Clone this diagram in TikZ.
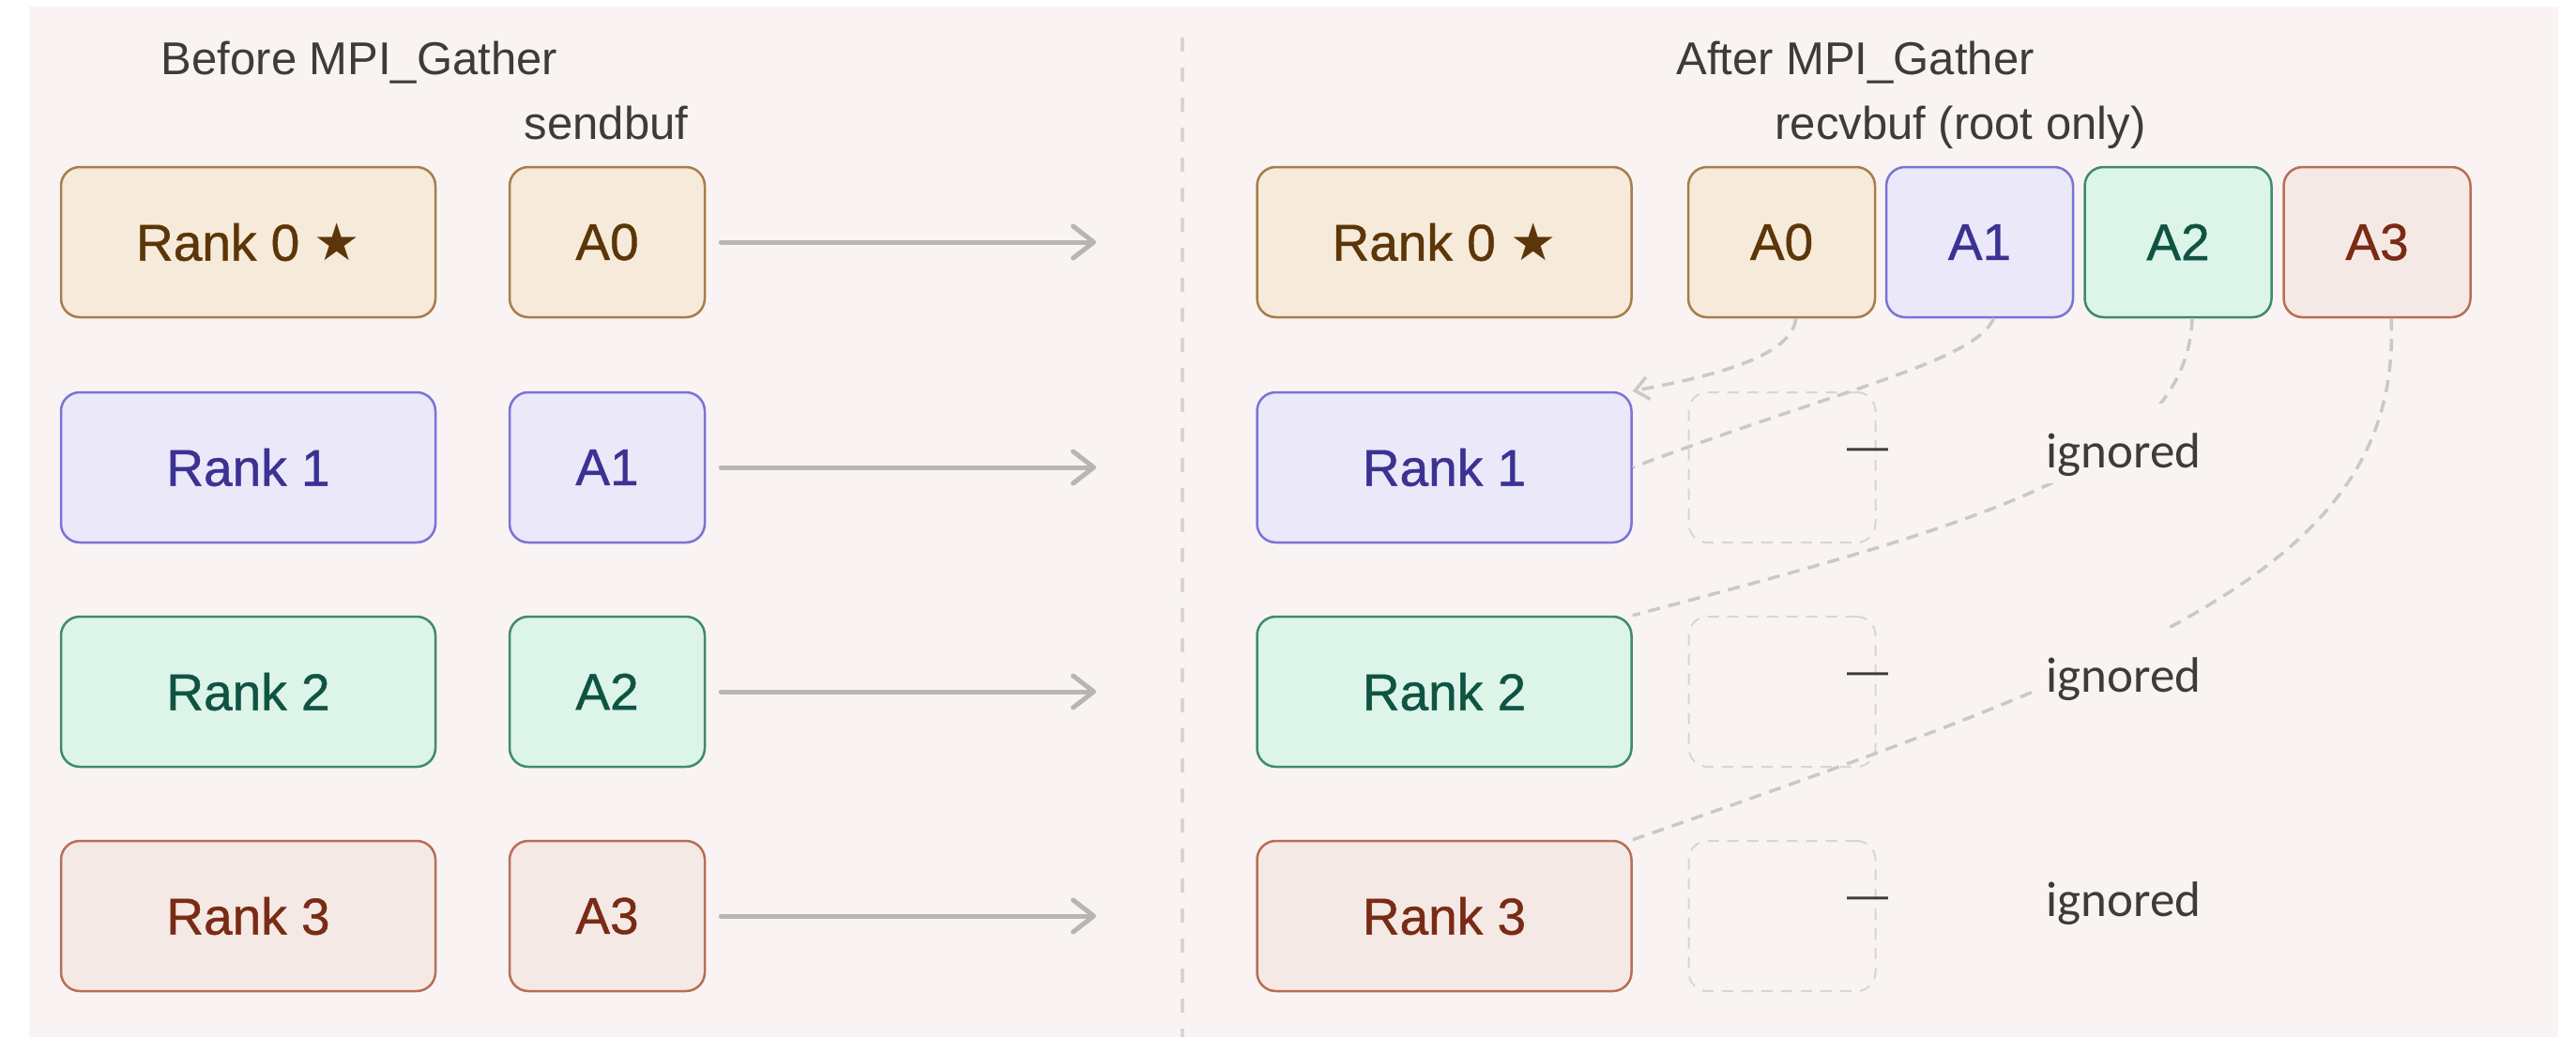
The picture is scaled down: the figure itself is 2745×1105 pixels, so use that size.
\documentclass[tikz,border=0pt]{standalone}
\usepackage{fontspec}
\setmainfont{Liberation Sans}
\newfontfamily\boxfont[FakeBold=0.8]{Liberation Sans}
\newfontfamily\starfont{DejaVu Sans}
\newfontfamily\ignfont{Carlito}
\usetikzlibrary{arrows.meta}
\definecolor{bg}{HTML}{F9F4F3}
\definecolor{fzero}{HTML}{F6EADA}
\definecolor{dzero}{HTML}{A87D4A}
\definecolor{tzero}{HTML}{5C3608}
\definecolor{fone}{HTML}{EAE8F9}
\definecolor{done}{HTML}{7A73D6}
\definecolor{tone}{HTML}{3B3293}
\definecolor{ftwo}{HTML}{DDF4E8}
\definecolor{dtwo}{HTML}{3F8A6F}
\definecolor{ttwo}{HTML}{0F5443}
\definecolor{fthree}{HTML}{F5E9E5}
\definecolor{dthree}{HTML}{B96E55}
\definecolor{tthree}{HTML}{7A2B15}
\definecolor{txtgray}{HTML}{3C3C39}
\definecolor{arrgray}{HTML}{B7B7B0}
\definecolor{flowgray}{HTML}{CCC8C5}
\definecolor{phgray}{HTML}{D9D5D3}
\definecolor{divgray}{HTML}{D9D4D2}
\tikzset{
  box/.style={draw, line width=2.5pt, rounded corners=20pt, minimum height=160pt,
    inner sep=0pt, font=\boxfont\fontsize{55}{60}\selectfont},
  rankbox/.style={box, minimum width=399pt},
  sendbox/.style={box, minimum width=208pt},
  recvbox/.style={box, minimum width=199pt},
  placeholder/.style={draw=phgray, line width=2pt, dash pattern=on 12pt off 9pt,
    rounded corners=20pt, minimum width=199pt, minimum height=160pt, inner sep=0pt},
  rz/.style={fill=fzero, draw=dzero, text=tzero},
  ro/.style={fill=fone, draw=done, text=tone},
  rt/.style={fill=ftwo, draw=dtwo, text=ttwo},
  rh/.style={fill=fthree, draw=dthree, text=tthree},
  title/.style={anchor=base, text=txtgray, inner sep=0pt, font=\fontsize{49}{55}\selectfont},
  sendarrow/.style={draw=arrgray, line width=5pt, line cap=round,
    -{Straight Barb[length=22pt, width=34pt, round]}},
  flow/.style={draw=flowgray, line width=3.5pt, dash pattern=on 13pt off 9pt},
  divider/.style={draw=divgray, line width=4pt, dash pattern=on 15pt off 17pt},
  ignlabel/.style={anchor=base, fill=bg, text=txtgray, text height=68pt, text depth=17pt,
    inner xsep=10pt, inner ysep=0pt, font=\ignfont\fontsize{53}{60}\selectfont},
  dashlabel/.style={anchor=base, text=txtgray, inner sep=0pt, font=\fontsize{44}{50}\selectfont}
}
\begin{document}
\begin{tikzpicture}[x=1pt, y=-1pt]
\useasboundingbox (0,0) rectangle (2745,1105);
\fill[white] (0,0) rectangle (2745,1105);
\fill[bg] (31,7) rectangle (2726,1105);

% divider
\coordinate (dtop) at (1260,40);
\coordinate (dbot) at (1260,1105);
\draw[divider] (dtop) -- (dbot);

% titles
\node[title] (tbefore) at (383,80) {Before MPI\_Gather};
\node[title] (tsend) at (646,148) {sendbuf};
\node[title] (tafter) at (1977,80) {After MPI\_Gather};
\node[title] (trecv) at (2089,148) {recvbuf (root only)};

% left side
\node[rankbox, rz] (L0) at (264.5,258) {Rank 0 {\starfont ★}};
\node[rankbox, ro] (L1) at (264.5,498) {Rank 1};
\node[rankbox, rt] (L2) at (264.5,737) {Rank 2};
\node[rankbox, rh] (L3) at (264.5,976) {Rank 3};
\node[sendbox, rz] (S0) at (647,258) {A0};
\node[sendbox, ro] (S1) at (647,498) {A1};
\node[sendbox, rt] (S2) at (647,737) {A2};
\node[sendbox, rh] (S3) at (647,976) {A3};

\coordinate (E0) at (1168,258);
\coordinate (E1) at (1168,498);
\coordinate (E2) at (1168,737);
\coordinate (E3) at (1168,976);
\draw[sendarrow] ([xshift=16pt]S0.east) -- (E0);
\draw[sendarrow] ([xshift=16pt]S1.east) -- (E1);
\draw[sendarrow] ([xshift=16pt]S2.east) -- (E2);
\draw[sendarrow] ([xshift=16pt]S3.east) -- (E3);

% right side
\node[rankbox, rz] (B0) at (1539,258) {Rank 0 {\starfont ★}};
\node[rankbox, ro] (B1) at (1539,498) {Rank 1};
\node[rankbox, rt] (B2) at (1539,737) {Rank 2};
\node[rankbox, rh] (B3) at (1539,976) {Rank 3};
\node[recvbox, rz] (R0) at (1898.5,258) {A0};
\node[recvbox, ro] (R1) at (2109.5,258) {A1};
\node[recvbox, rt] (R2) at (2321,258) {A2};
\node[recvbox, rh] (R3) at (2533,258) {A3};

\node[placeholder] (P1) at (1899,498) {};
\node[placeholder] (P2) at (1899,737) {};
\node[placeholder] (P3) at (1899,976) {};

% flows
\draw[flow, -{Straight Barb[length=14pt, width=24pt]}] ([xshift=15pt]R0.south)
  .. controls (1910,385) and (1800,405) .. (B1.north east);
\draw[flow] ([xshift=15pt]R1.south)
  .. controls (2105,385) and (1960,415) .. (B1.east);
\draw[flow] ([xshift=15pt]R2.south)
  .. controls (2330,500) and (2100,560) .. (B2.north east);
\draw[flow] ([xshift=15pt]R3.south)
  .. controls (2560,600) and (2300,700) .. (B3.north east);

% labels
\node[dashlabel] (D1) at (1990,490) {—};
\node[dashlabel] (D2) at (1990,729) {—};
\node[dashlabel] (D3) at (1990,968) {—};
\node[ignlabel] (I1) at (2263,498) {ignored};
\node[ignlabel] (I2) at (2263,737) {ignored};
\node[ignlabel] (I3) at (2263,976) {ignored};
\end{tikzpicture}
\end{document}
